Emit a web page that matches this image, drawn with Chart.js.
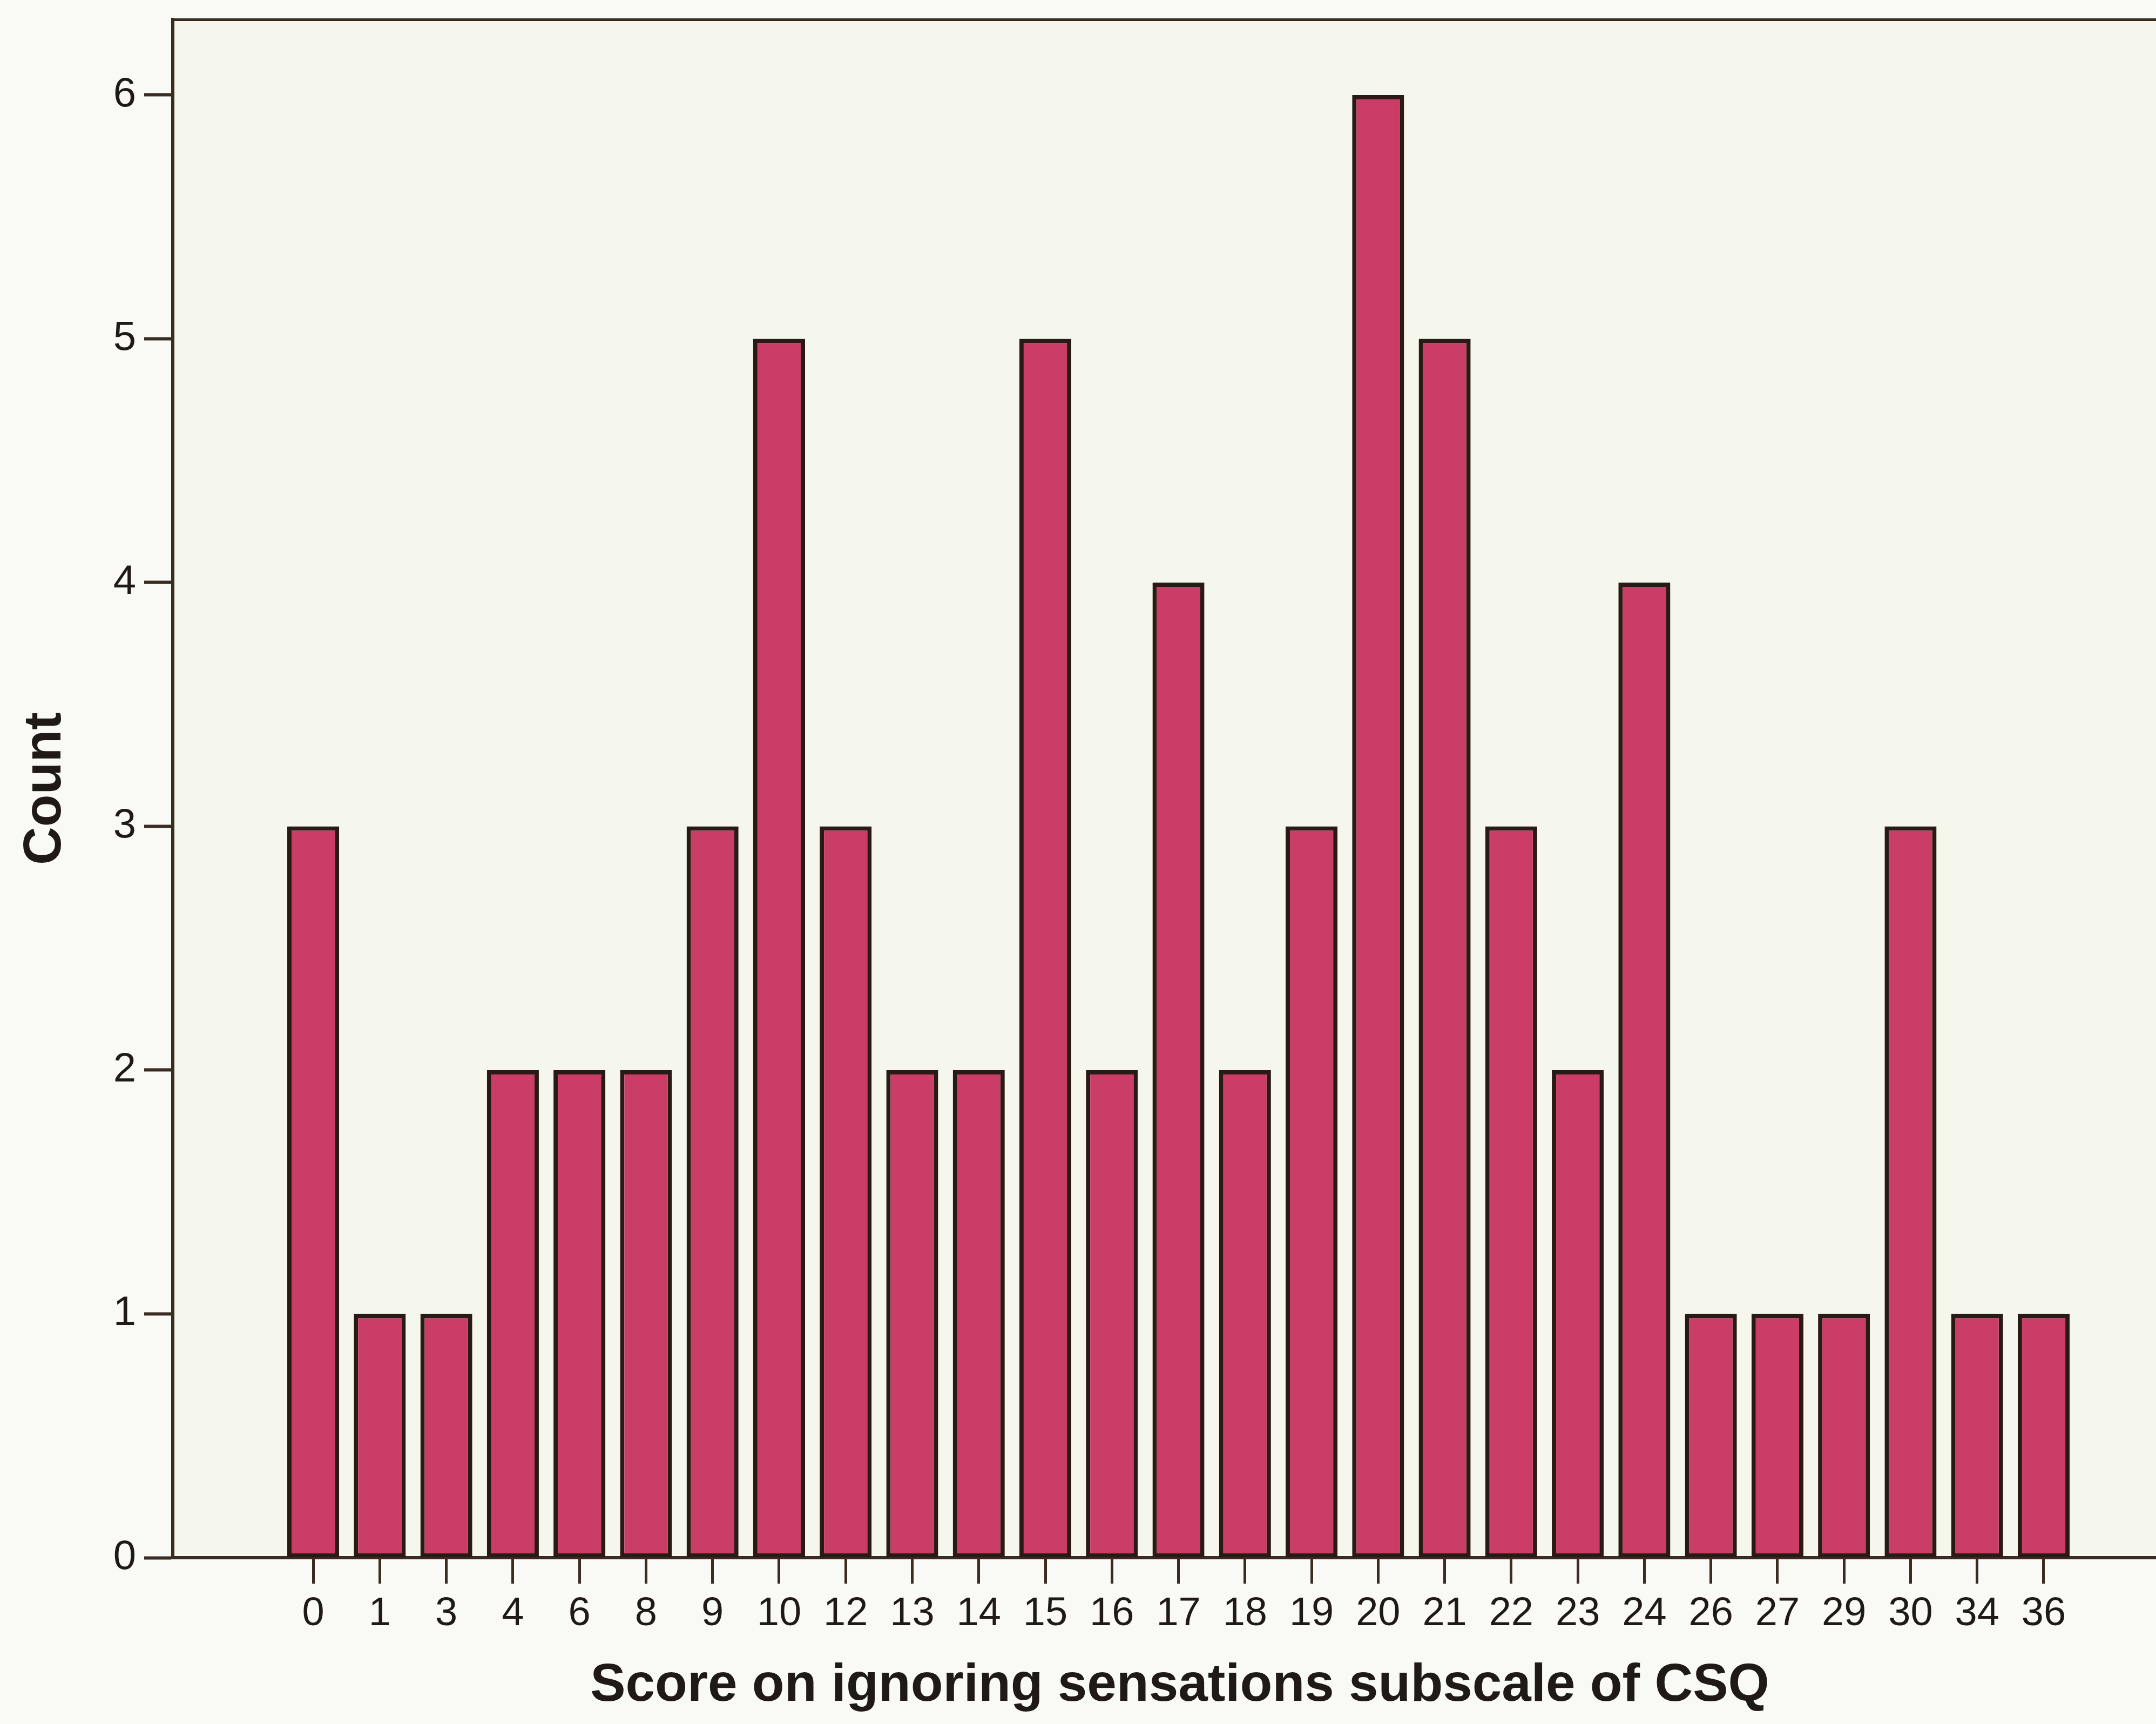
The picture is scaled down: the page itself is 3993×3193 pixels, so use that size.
<!DOCTYPE html>
<html lang="en">
<head>
    <meta charset="UTF-8">
    <title>Score on ignoring sensations subscale of CSQ</title>
    <script src="https://cdn.jsdelivr.net/npm/chart.js@4.4.1/dist/chart.umd.min.js"></script>
    <style>
        html, body {
            margin: 0;
            padding: 0;
            overflow: hidden;
            background: #f9faf6; /* fondo exterior casi blanco */
        }
        canvas { display: block; }
    </style>
</head>
<body>
    <canvas id="chart" width="4050" height="3193"></canvas>

    <script>
        // Datos
        const scores = ['0', '1', '3', '4', '6', '8', '9', '10', '12', '13', '14', '15', '16', '17',
                        '18', '19', '20', '21', '22', '23', '24', '26', '27', '29', '30', '34', '36'];
        const counts = [3, 1, 1, 2, 2, 2, 3, 5, 3, 2, 2, 5, 2, 4,
                        2, 3, 6, 5, 3, 2, 4, 1, 1, 1, 3, 1, 1];
        const countTicks = [0, 1, 2, 3, 4, 5, 6];

        const ink = '#1f1a15';
        const axisColor = '#3a2c22';

        // rango del eje x: deja hueco a la izquierda como en el original
        const xMin = -2.11;
        const xMax = 28.15;

        // fondo del area del grafico
        const plotBackground = {
            id: 'plotBackground',
            beforeDraw(chart) {
                const { ctx, chartArea: a } = chart;
                ctx.save();
                ctx.fillStyle = '#f5f7ec';
                ctx.fillRect(a.left, a.top, a.right - a.left, a.bottom - a.top);
                ctx.restore();
            }
        };

        const ctx = document.getElementById('chart').getContext('2d');
        new Chart(ctx, {
            type: 'bar',
            data: {
                datasets: [{
                    label: 'Count',
                    data: counts.map((c, i) => ({ x: i, y: c })),
                    backgroundColor: '#ca3d67',
                    borderColor: '#2a1a15',
                    borderWidth: 8,
                    borderSkipped: false,
                    barPercentage: 0.78,
                    categoryPercentage: 1
                }]
            },
            options: {
                responsive: false,
                animation: false,
                layout: { padding: 0 },
                plugins: {
                    legend: { display: false },
                    tooltip: { enabled: false }
                },
                scales: {
                    x: {
                        type: 'linear',
                        position: 'bottom',
                        min: xMin,
                        max: xMax,
                        offset: false,
                        afterBuildTicks: s => { s.ticks = scores.map((_, i) => ({ value: i })); },
                        afterFit: s => { s.height = 308; s.paddingLeft = 0; s.paddingRight = 0; },
                        grid: {
                            display: true,
                            offset: false,
                            drawOnChartArea: false,
                            drawTicks: true,
                            tickLength: 48,
                            tickWidth: 5,
                            tickColor: axisColor
                        },
                        border: { display: true, color: axisColor, width: 6 },
                        ticks: {
                            autoSkip: false,
                            maxRotation: 0,
                            padding: 12,
                            color: ink,
                            font: { family: 'Liberation Sans, Arial, sans-serif', size: 74 },
                            callback: v => scores[v] ?? ''
                        },
                        title: {
                            display: true,
                            text: 'Score on ignoring sensations subscale of CSQ',
                            color: ink,
                            padding: { top: 0, bottom: 11 },
                            font: { family: 'Liberation Sans, Arial, sans-serif', size: 98, weight: 'bold', lineHeight: 1.2 }
                        }
                    },
                    top: {
                        type: 'linear',
                        position: 'top',
                        min: xMin,
                        max: xMax,
                        afterFit: s => { s.height = 36; },
                        grid: { display: false },
                        ticks: { display: false },
                        border: { display: true, color: axisColor, width: 5 }
                    },
                    y: {
                        min: 0,
                        max: 6.31,
                        afterBuildTicks: s => { s.ticks = countTicks.map(v => ({ value: v })); },
                        // ancho fijo del eje y sin relleno extra arriba/abajo
                        afterFit: s => { s.width = 320; s.paddingTop = 0; s.paddingBottom = 0; },
                        grid: {
                            display: true,
                            drawOnChartArea: false,
                            drawTicks: true,
                            tickLength: 53,
                            tickWidth: 6,
                            tickColor: axisColor
                        },
                        border: { display: true, color: axisColor, width: 6 },
                        ticks: {
                            padding: 15,
                            color: ink,
                            font: { family: 'Liberation Sans, Arial, sans-serif', size: 76 }
                        },
                        title: {
                            display: true,
                            text: 'Count',
                            color: ink,
                            padding: { top: 26, bottom: 0 },
                            font: { family: 'Liberation Sans, Arial, sans-serif', size: 98, weight: 'bold', lineHeight: 1.2 }
                        }
                    }
                }
            },
            plugins: [plotBackground]
        });
    </script>
</body>
</html>
